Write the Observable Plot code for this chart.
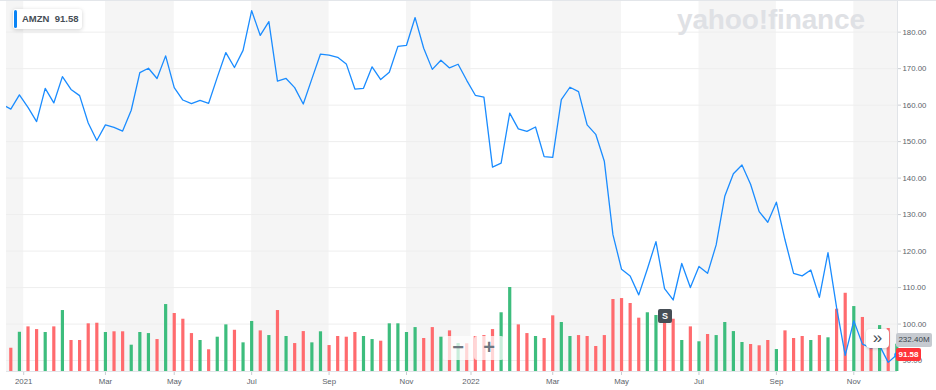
<!DOCTYPE html>
<html><head><meta charset="utf-8">
<script src="https://cdn.jsdelivr.net/npm/d3@7"></script>
<script src="https://cdn.jsdelivr.net/npm/@observablehq/plot@0.6"></script>
<style>
body{margin:0;background:#fff;font-family:"Liberation Sans",Arial,sans-serif}
#wrap{position:relative;width:936px;height:390px;overflow:hidden;border-top:1px solid #e3e6ea;box-sizing:border-box}
#wrap svg{position:absolute;left:0;top:0}
#wrap [aria-label*="axis"] line,#wrap [aria-label*="axis"] path{stroke:#c9cdd2}
.ov{position:absolute;box-sizing:border-box}
#tag{left:13px;top:8px;width:69px;height:20px;background:#fff;border-radius:3px;box-shadow:0 1px 4px rgba(0,0,0,.18);font-weight:700;font-size:9.5px;color:#464e56;line-height:20px;padding-left:9px;white-space:nowrap}
#tag .bar{position:absolute;left:1px;top:1px;width:3px;height:18px;background:#0a84f5;border-radius:2px}
#logo{left:677px;top:3px;font-size:28px;font-weight:700;color:#dfe1e5;letter-spacing:-0.15px;white-space:nowrap}
#split{left:658px;top:308px;width:14px;height:14px;background:#464e56;color:#fff;font-weight:700;font-size:9px;line-height:14px;text-align:center;border-radius:2px}
.zb{top:335px;height:24px;width:30px;background:rgba(255,255,255,.72);color:#6e7780;font-weight:700;font-size:20px;line-height:23px;text-align:center;border-radius:3px}
#more{left:866px;top:328px;width:23px;height:19px;background:#fff;border-radius:4px;box-shadow:0 1px 3px rgba(0,0,0,.2);color:#464e56;font-size:17px;line-height:17px;text-align:center}
#vtag{left:896px;top:332px;width:36px;height:14px;background:#c6cad0;color:#3c444c;font-size:8px;line-height:14px;text-align:center;border-radius:2px}
#ptag{left:896px;top:347px;width:25px;height:13px;background:#ff333a;color:#fff;font-weight:700;font-size:8px;line-height:13px;text-align:center;border-radius:2px}
</style></head>
<body>
<div id="wrap"></div>
<script>
// x positions are week indices; week -1 is the week before the first visible bar
const tickIdx = [1.5, 11, 19, 28, 37, 46, 53.5, 63, 71, 80, 89, 98];
const tickLabels = ["2021","Mar","May","Jul","Sep","Nov","2022","Mar","May","Jul","Sep","Nov"];
const priceTicks = [90,100,110,120,130,140,150,160,170,180];
const xDomain = [-0.5, 103.08];
const yDomain = [87, 188.4];
const volDomain = [0, 3150];

// weekly close, weeks -1..103
const closes = [160.2,
 158.9,162.8,159.4,155.5,164.6,160.6,167.8,164.3,162.6,155.1,
 150.3,154.6,153.9,152.9,158.6,168.9,170.1,167.3,173.5,164.8,
 161.4,160.4,161.3,160.5,167.6,174.4,170.3,175.0,185.9,179.1,
 182.9,166.6,167.3,164.8,160.3,167.2,174.0,173.7,173.1,171.3,
 164.4,164.6,170.5,167.0,169.0,176.1,176.4,184.0,175.6,169.8,
 172.3,170.2,171.2,166.8,162.7,162.2,143.0,144.1,157.8,153.5,
 152.8,154.0,145.9,145.7,161.5,164.9,163.7,154.6,152.0,144.6,
 124.5,115.0,113.2,108.0,115.1,122.6,109.7,106.6,116.6,110.0,
 115.8,113.9,121.7,135.0,141.2,143.6,138.3,130.8,127.9,133.4,
 123.1,113.9,113.2,114.8,107.3,119.6,104.5,91.4,100.9,94.5,
 93.5,94.1,89.5,91.58];

// weekly volume in millions, weeks 0..103
const volumes = [198,334,380,357,332,380,519,264,264,406,
 411,332,338,338,224,332,323,272,570,494,
 445,323,264,185,292,397,351,244,426,346,
 306,519,298,238,340,244,338,221,298,292,
 332,298,272,258,406,406,332,374,281,374,
 292,346,238,236,298,306,357,500,715,397,
 323,298,281,474,417,298,306,298,213,306,
 613,621,579,454,500,477,443,445,264,380,
 253,315,306,417,340,247,230,219,264,187,
 346,281,298,264,306,287,530,666,553,460,
 272,391,366,232.4];

// 1 = up week (green), 0 = down week (red)
const upWeeks = [0,1,0,0,1,0,1,0,0,0, 0,1,0,0,1,1,1,0,1,0, 0,0,1,0,1,1,0,1,1,0,
 1,0,1,0,0,1,1,0,0,0, 0,1,1,0,1,1,1,1,0,0, 1,0,1,0,0,0,0,1,1,0,
 0,1,0,0,1,1,0,0,0,0, 0,0,0,0,1,1,0,0,1,0, 1,0,1,1,1,1,0,0,0,1,
 0,0,0,1,0,1,0,0,1,0, 0,1,0,1];

const priceData = closes.map((c, k) => ({i: k - 1, c}));
const volData = volumes.map((v, i) => ({i, v, up: upWeeks[i]}));
const bands = [];
for (let k = -1; k < tickIdx.length; k += 2) {
  bands.push({a: k < 0 ? xDomain[0] : tickIdx[k], b: k + 1 < tickIdx.length ? tickIdx[k + 1] : xDomain[1]});
}

const font = "Liberation Sans, Arial, sans-serif";
const base = {width: 936, height: 390, marginLeft: 6, marginRight: 39, marginTop: 0, marginBottom: 20};

const back = Plot.plot({
  ...base,
  style: {fontSize: "7.8px", fontFamily: font, color: "#5b636a", background: "transparent", overflow: "visible"},
  x: {domain: xDomain, ticks: tickIdx, tickFormat: d => tickLabels[tickIdx.indexOf(d)], tickSize: 4, tickPadding: 3, label: null},
  y: {domain: yDomain, axis: "right", ticks: priceTicks, tickFormat: d => d.toFixed(2), tickSize: 3, tickPadding: 2, label: null},
  marks: [
    Plot.rect(bands, {x1: "a", x2: "b", fill: "#f5f5f5"}),
    Plot.ruleY(priceTicks, {stroke: "#eeeeee"}),
    Plot.ruleY([yDomain[0]], {stroke: "#e1e4e8"}),
    Plot.ruleX([xDomain[1]], {stroke: "#e1e4e8"})
  ]
});

const vol = Plot.plot({
  ...base,
  style: {background: "transparent"},
  x: {domain: xDomain, axis: null},
  y: {domain: volDomain, axis: null},
  marks: [
    Plot.ruleX(volData, {x: "i", y1: 0, y2: "v", stroke: d => d.up ? "#3dbd7d" : "#ff6b6e", strokeWidth: 3.2})
  ]
});

const price = Plot.plot({
  ...base,
  style: {background: "transparent"},
  x: {domain: xDomain, axis: null},
  y: {domain: yDomain, axis: null},
  marks: [
    Plot.line(priceData, {x: "i", y: "c", stroke: "#1a8cff", strokeWidth: 1.3, clip: true}),
    Plot.dot(priceData.slice(-1), {x: "i", y: "c", r: 2.6, fill: "#1a8cff"})
  ]
});

const wrap = document.getElementById("wrap");
wrap.append(back, vol, price);
wrap.insertAdjacentHTML("beforeend", `
<div class="ov" id="tag"><span class="bar"></span>AMZN&nbsp;&nbsp;91.58</div>
<div class="ov" id="logo">yahoo!finance</div>
<div class="ov" id="split">S</div>
<div class="ov zb" style="left:443px">−</div>
<div class="ov zb" style="left:474px">+</div>
<div class="ov" id="more">»</div>
<div class="ov" id="vtag">232.40M</div>
<div class="ov" id="ptag">91.58</div>
`);
</script>
</body></html>
